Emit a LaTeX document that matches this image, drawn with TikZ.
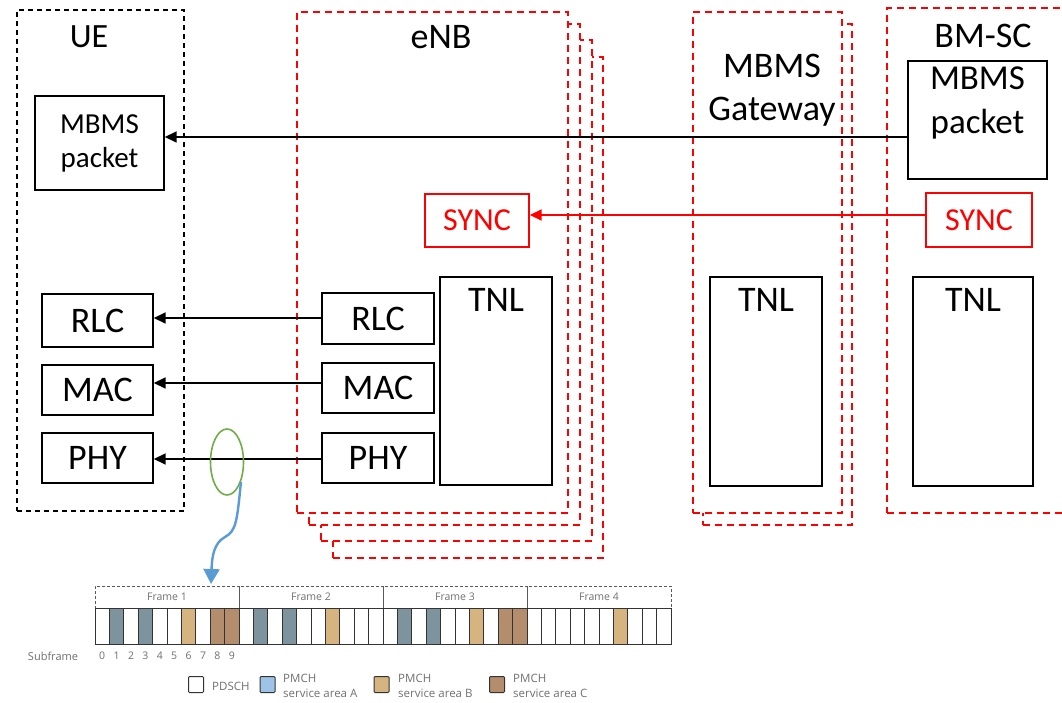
\documentclass[tikz,border=0pt]{standalone}
\usepackage{fontspec}
\setmainfont{Carlito}
\newfontfamily\lightf{Open Sans}
\usetikzlibrary{arrows.meta,calc,shapes.geometric}
\definecolor{nred}{HTML}{FF0000}
\definecolor{cblue}{HTML}{7D939E}
\definecolor{ctan}{HTML}{D6B47F}
\definecolor{cbrown}{HTML}{B48E6C}
\definecolor{lblue}{HTML}{9DC3E6}
\definecolor{egreen}{HTML}{70AD47}
\definecolor{abluec}{HTML}{5B9BD5}
\definecolor{txtgray}{HTML}{707070}
\begin{document}
\begin{tikzpicture}[x=1pt,y=-1pt,
  box/.style={draw=black, line width=1.4pt, fill=white, inner sep=0pt},
  redbox/.style={draw=nred, line width=1.4pt, fill=white, inner sep=0pt, text=nred, font=\fontsize{32}{35}\selectfont},
  reddash/.style={draw=nred, line width=2pt, dash pattern=on 7pt off 5pt, fill=white, inner sep=0pt},
  uedash/.style={draw=black, line width=1.4pt, dash pattern=on 5pt off 4pt, inner sep=0pt},
  big/.style={font=\fontsize{36}{40}\selectfont, inner sep=0pt},
  mid/.style={font=\fontsize{29}{34}\selectfont, inner sep=0pt, align=center},
  arr/.style={line width=1.6pt, -{Triangle[length=12pt,width=11pt]}},
  cell/.style={draw=black!80, line width=0.8pt, minimum width=14.4pt, minimum height=36pt, inner sep=0pt},
  framebox/.style={draw=black!65, line width=0.9pt, dash pattern=on 3pt off 2pt, minimum width=144pt, minimum height=22pt, inner sep=0pt, text=txtgray, font=\lightf\fontsize{10.5}{12}\selectfont},
  small/.style={text=txtgray, font=\lightf\fontsize{10.5}{12}\selectfont, inner sep=0pt},
  legtxt/.style={text=txtgray, font=\lightf\fontsize{11.5}{14.5}\selectfont, inner sep=0pt, anchor=west, align=left},
  legsq/.style={draw=black!80, line width=1pt, rounded corners=1pt, minimum width=15pt, minimum height=16pt, inner sep=0pt}
]
\clip (0,0) rectangle (1062,703);
\fill[white] (0,0) rectangle (1062,703);

% ---------- UE ----------
\node[uedash, minimum width=167pt, minimum height=501pt] (ue) at (100.5,260.5) {};
\node[big, font=\fontsize{34}{38}\selectfont] (uelbl) at (89,37) {UE};
\node[box, mid, minimum width=129pt, minimum height=94pt] (uemb) at (99.5,143) {MBMS\\packet};
\node[box, big, minimum width=111pt, minimum height=53pt] (uerlc) at (97.5,320.5) {RLC};
\node[box, big, minimum width=111pt, minimum height=50pt] (uemac) at (97.5,390) {MAC};
\node[box, big, minimum width=111pt, minimum height=50pt] (uephy) at (97.5,458) {PHY};

% ---------- eNB stack ----------
\node[reddash, minimum width=270pt, minimum height=501pt] (enb4) at (468,307.5) {};
\node[reddash, minimum width=271pt, minimum height=501pt] (enb3) at (456.5,290.5) {};
\node[reddash, minimum width=271pt, minimum height=501pt] (enb2) at (444.5,274.5) {};
\node[reddash, minimum width=271pt, minimum height=501pt] (enb1) at (432.5,262.5) {};
\node[big] (enblbl) at (441,37) {eNB};
\node[redbox, minimum width=104pt, minimum height=53pt] (enbsync) at (477,220.5) {SYNC};
\node[box, minimum width=112pt, minimum height=208pt] (enbtnl) at (496,381) {};
\node[big, anchor=north] (enbtnltxt) at (496,288) {TNL};
\node[box, big, minimum width=112pt, minimum height=51pt] (enbrlc) at (378,318.5) {RLC};
\node[box, big, minimum width=112pt, minimum height=50pt] (enbmac) at (378,388) {MAC};
\node[box, big, minimum width=112pt, minimum height=50pt] (enbphy) at (378,458) {PHY};

% ---------- MBMS Gateway ----------
\node[reddash, minimum width=149pt, minimum height=501pt] (gw2) at (777.5,274.5) {};
\node[reddash, minimum width=149pt, minimum height=501pt] (gw1) at (767.5,262.5) {};
\node[big, align=center, font=\fontsize{36}{43}\selectfont] (gwlbl) at (772,90) {MBMS\\Gateway};
\node[box, minimum width=112pt, minimum height=209pt] (gwtnl) at (766,381.5) {};
\node[big, anchor=north] (gwtnltxt) at (766,288) {TNL};

% ---------- BM-SC ----------
\node[reddash, minimum width=200pt, minimum height=505pt] (bm) at (987,260.5) {};
\node[big] (bmlbl) at (983,36) {BM-SC};
\node[box, minimum width=139pt, minimum height=118pt] (bmmb) at (977.5,120) {};
\node[big, align=center, font=\fontsize{35}{44}\selectfont, anchor=north] (bmmbtxt) at (977.5,67) {MBMS\\packet};
\node[redbox, minimum width=106pt, minimum height=54pt] (bmsync) at (979,220) {SYNC};
\node[box, minimum width=120pt, minimum height=209pt] (bmtnl) at (973,381.5) {};
\node[big, anchor=north] (bmtnltxt) at (973,288) {TNL};

% ---------- arrows ----------
\coordinate (ya) at (0,137);
\coordinate (yb) at (0,215);
\coordinate (yr) at (0,318);
\coordinate (ym) at (0,383);
\coordinate (yp) at (0,459);
\draw[arr] (bmmb.west |- ya) -- (uemb.east |- ya);
\draw[arr, draw=nred] (bmsync.west |- yb) -- (enbsync.east |- yb);
\draw[arr] (enbrlc.west |- yr) -- (uerlc.east |- yr);
\draw[arr] (enbmac.west |- ym) -- (uemac.east |- ym);
\draw[arr] (enbphy.west |- yp) -- (uephy.east |- yp);

% ---------- ellipse and blue arrow ----------
\node[ellipse, draw=egreen, line width=1.6pt, minimum width=33pt, minimum height=66pt, inner sep=0pt] (ell) at (227,462) {};
\coordinate (tip) at (211,584);
\draw[draw=abluec, line width=2.4pt, -{Triangle[length=15pt,width=16pt]}]
  (ell.-55) .. controls (237,522) and (236,531) .. (225,537) .. controls (214,543) and (212,556) .. (tip);

% ---------- frames ----------
\node[framebox] (f1) at (167,597) {Frame 1};
\node[framebox] (f2) at (311,597) {Frame 2};
\node[framebox] (f3) at (455,597) {Frame 3};
\node[framebox] (f4) at (599,597) {Frame 4};
\foreach \i in {0,...,39} {
  \node[cell, fill=white] (c\i) at ({95+14.4*\i+7.2},626) {};
}
\foreach \i in {1,3,11,13,21,23} { \node[cell, fill=cblue] at (c\i) {}; }
\foreach \i in {6,16,26,36} { \node[cell, fill=ctan] at (c\i) {}; }
\foreach \i in {8,9,28,29} { \node[cell, fill=cbrown] at (c\i) {}; }
\node[small, font=\lightf\fontsize{11}{12}\selectfont] (sub) at (53,656) {Subframe};
\foreach \i in {0,...,9} { \node[small] (n\i) at ({95+14.4*\i+7.2},656) {\i}; }

% ---------- legend ----------
\node[legsq, fill=white] (lg1) at (196,684.5) {};
\node[legtxt] (lt1) at (212,686) {PDSCH};
\node[legsq, fill=lblue] (lg2) at (267.5,684.5) {};
\node[legtxt] (lt2) at (283,686) {PMCH\\service area A};
\node[legsq, fill=ctan] (lg3) at (381.5,684.5) {};
\node[legtxt] (lt3) at (398,686) {PMCH\\service area B};
\node[legsq, fill=cbrown] (lg4) at (497,684.5) {};
\node[legtxt] (lt4) at (513,686) {PMCH\\service area C};
\end{tikzpicture}
\end{document}
